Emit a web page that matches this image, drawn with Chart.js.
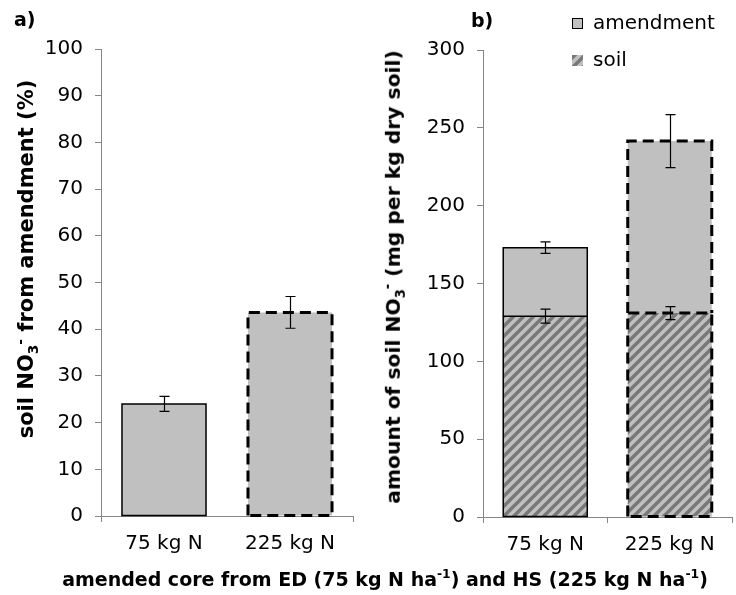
<!DOCTYPE html>
<html>
<head>
<meta charset="utf-8">
<title>soil NO3 amendment</title>
<script src="https://cdn.jsdelivr.net/npm/chart.js@4"></script>
<style>
body{margin:0;background:#fff;}
#wrap{position:relative;width:736px;height:595px;overflow:hidden;font-family:"DejaVu Sans",sans-serif;color:#000;}
canvas{position:absolute;top:0;}
.lbl{position:absolute;font-weight:bold;font-size:19px;white-space:nowrap;line-height:1;}
.ytl{font-size:21px;}
.rot{transform:translate(-50%,-50%) rotate(-90deg);}
.ctr{transform:translate(-50%,-50%);}
sub,sup{font-size:65%;line-height:0;}
</style>
</head>
<body>
<div id="wrap">
  <canvas id="ca" width="370" height="595" style="left:0"></canvas>
  <canvas id="cb" width="366" height="595" style="left:370px"></canvas>
  <div class="lbl" style="left:14px;top:10px">a)</div>
  <div class="lbl" style="left:471px;top:11px">b)</div>
  <div class="lbl ytl rot" style="left:26px;top:259px">soil NO<sub>3</sub><sup>-</sup> from amendment (%)</div>
  <div class="lbl rot" style="left:393px;top:277px;font-size:20.3px">amount of soil NO<sub>3</sub><sup>-</sup> (mg per kg dry soil)</div>
  <div class="lbl ctr" style="left:385px;top:579px">amended core from ED (75 kg N ha<sup>-1</sup>) and HS (225 kg N ha<sup>-1</sup>)</div>
</div>
<script>
// values
const categories = ['75 kg N', '225 kg N'];
const pctFromAmendment = [24.0, 43.6];
const pctErr = [1.6, 3.4];
const soilAmount = [129, 131];
const soilErr = [4.5, 4.2];
const amendmentAmount = [44, 110.5];
const totalErr = [3.7, 17];

const GREY = '#c0c0c0';
const AXIS = '#868686';
const tickFont = { family: 'DejaVu Sans', size: 20 };

function hatch() {
  const s = 10;
  const c = document.createElement('canvas');
  c.width = c.height = s;
  const g = c.getContext('2d');
  g.fillStyle = GREY;
  g.fillRect(0, 0, s, s);
  g.strokeStyle = '#787878';
  g.lineWidth = 3.4;
  g.beginPath();
  g.moveTo(-s / 2, s / 2); g.lineTo(s / 2, -s / 2);
  g.moveTo(0, s); g.lineTo(s, 0);
  g.moveTo(s / 2, s * 1.5); g.lineTo(s * 1.5, s / 2);
  g.stroke();
  return g.createPattern(c, 'repeat');
}
const soilFill = hatch();

// outlines (solid / dashed) and error bars
const barExtras = {
  id: 'barExtras',
  afterDatasetsDraw(chart, args, opts) {
    const ctx = chart.ctx;
    const ys = chart.scales.y;
    const unit = ys.getPixelForValue(0) - ys.getPixelForValue(1);
    ctx.save();
    chart.data.datasets.forEach((ds, di) => {
      chart.getDatasetMeta(di).data.forEach((bar, i) => {
        const p = bar.getProps(['x', 'y', 'base', 'width'], true);
        const l = p.x - p.width / 2, r = p.x + p.width / 2;
        ctx.strokeStyle = '#000';
        if (i === 1) { ctx.setLineDash([11, 6]); ctx.lineWidth = 3; }
        else { ctx.setLineDash([]); ctx.lineWidth = 1.5; }
        ctx.beginPath();
        ctx.moveTo(l, p.base);
        ctx.lineTo(l, p.y);
        ctx.lineTo(r, p.y);
        ctx.lineTo(r, p.base);
        if (di === 0) ctx.closePath();
        ctx.stroke();
      });
    });
    ctx.setLineDash([]);
    ctx.lineWidth = 1.2;
    ctx.strokeStyle = '#000';
    opts.errors.forEach((err, di) => {
      chart.getDatasetMeta(di).data.forEach((bar, i) => {
        const x = Math.round(bar.x) + 0.5;
        const e = err[i] * unit;
        ctx.beginPath();
        ctx.moveTo(x, bar.y - e); ctx.lineTo(x, bar.y + e);
        ctx.moveTo(x - 5, bar.y - e); ctx.lineTo(x + 5, bar.y - e);
        ctx.moveTo(x - 5, bar.y + e); ctx.lineTo(x + 5, bar.y + e);
        ctx.stroke();
      });
    });
    if (opts.legend) {
      ctx.font = '20px "DejaVu Sans"';
      ctx.textBaseline = 'middle';
      const items = chart.data.datasets.slice().reverse();
      items.forEach((ds, k) => {
        const y = 18 + k * 37;
        ctx.fillStyle = ds.backgroundColor;
        ctx.fillRect(202, y, 11, 11);
        if (ds.label === 'amendment') {
          ctx.lineWidth = 1;
          ctx.strokeRect(202.5, y + 0.5, 10, 10);
        }
        ctx.fillStyle = '#000';
        ctx.fillText(ds.label, 223, y + 6);
      });
    }
    ctx.restore();
  }
};

function axes(max, step, xHeight, yWidth, hideMid) {
  return {
    x: {
      grid: {
        drawOnChartArea: false, offset: true, tickLength: 6,
        color: c => (hideMid && c.index === 1) ? 'rgba(0,0,0,0)' : AXIS
      },
      border: { color: AXIS },
      ticks: { color: '#000', font: tickFont, padding: 10 },
      afterFit(s) { s.height = xHeight; }
    },
    y: {
      min: 0, max: max,
      stacked: true,
      grid: { drawOnChartArea: false, tickLength: 6, color: AXIS },
      border: { color: AXIS },
      ticks: { stepSize: step, color: '#000', font: tickFont, padding: 12 },
      afterFit(s) { s.width = yWidth; }
    }
  };
}

new Chart(document.getElementById('ca'), {
  type: 'bar',
  data: {
    labels: categories,
    datasets: [{
      label: 'amendment', data: pctFromAmendment, backgroundColor: GREY,
      borderWidth: 0, barPercentage: 0.667, categoryPercentage: 1
    }]
  },
  options: {
    responsive: false, animation: false,
    layout: { padding: { top: 49, right: 17, left: 0, bottom: 0 } },
    plugins: { legend: { display: false }, tooltip: { enabled: false }, barExtras: { errors: [pctErr] } },
    scales: axes(100, 10, 79, 101, true)
  },
  plugins: [barExtras]
});

const bScales = axes(300, 50, 78, 113, false);
bScales.x.stacked = true;
new Chart(document.getElementById('cb'), {
  type: 'bar',
  data: {
    labels: categories,
    datasets: [
      { label: 'soil', data: soilAmount, backgroundColor: soilFill,
        borderWidth: 0, barPercentage: 0.675, categoryPercentage: 1 },
      { label: 'amendment', data: amendmentAmount, backgroundColor: GREY,
        borderWidth: 0, barPercentage: 0.675, categoryPercentage: 1 }
    ]
  },
  options: {
    responsive: false, animation: false,
    layout: { padding: { top: 50, right: 4, left: 0, bottom: 0 } },
    plugins: { legend: { display: false }, tooltip: { enabled: false },
      barExtras: { errors: [soilErr, totalErr], legend: true } },
    scales: bScales
  },
  plugins: [barExtras]
});
</script>
</body>
</html>
